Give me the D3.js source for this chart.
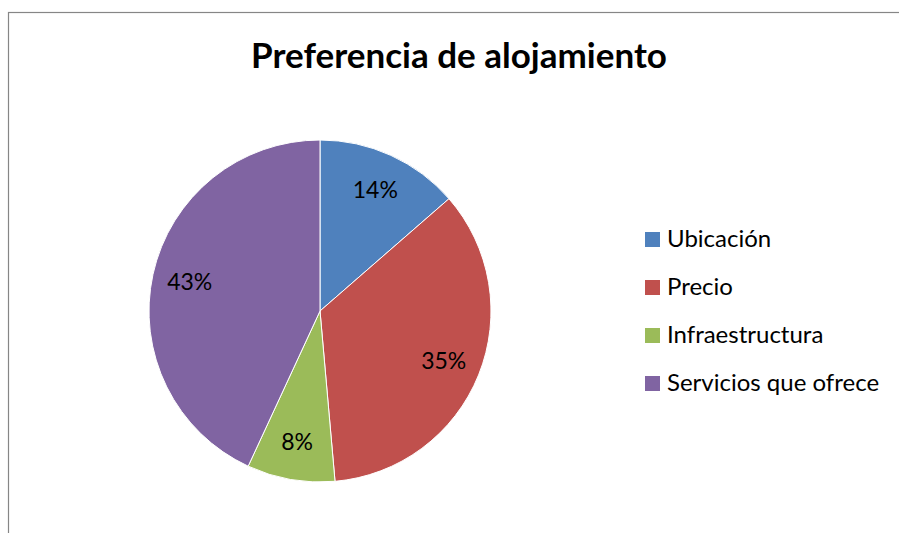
<!DOCTYPE html>
<html>
<head>
<meta charset="utf-8">
<script src="https://cdn.jsdelivr.net/npm/d3@7"></script>
<style>
  body { margin: 0; background: #fff; }
  svg { display: block; font-family: Lato, "Open Sans", sans-serif; }
</style>
</head>
<body>
<svg></svg>
<script>
var categories = ["Ubicación", "Precio", "Infraestructura", "Servicios que ofrece"];
var values = [13.6, 35.0, 8.3, 43.1];
var colors = ["#4f81bd", "#c0504d", "#9bbb59", "#8064a2"];
var title = "Preferencia de alojamiento";

var width = 899;
var height = 533;

var svg = d3.select("svg")
            .attr("width", width)
            .attr("height", height);

// chart border (runs off the right and bottom edges)
svg.append("rect")
   .attr("x", 8.5)
   .attr("y", 12.5)
   .attr("width", 900)
   .attr("height", 540)
   .attr("fill", "#fff")
   .attr("stroke", "#868686")
   .attr("stroke-width", 1.2);

svg.append("text")
   .attr("x", 459)
   .attr("y", 68)
   .attr("text-anchor", "middle")
   .style("font-size", "35px")
   .style("font-weight", "bold")
   .text(title);

var cx = 320, cy = 311, radius = 171;

var data = categories.map((c, i) => ({ name: c, value: values[i], color: colors[i] }));
var total = d3.sum(values);

var pie = d3.pie().sort(null).value(d => d.value);
var arc = d3.arc().innerRadius(0).outerRadius(radius);
var labelArc = d3.arc().innerRadius(radius * 0.78).outerRadius(radius * 0.78);

var g = svg.append("g").attr("transform", "translate(" + cx + "," + cy + ")");

var slices = g.selectAll("g.slice").data(pie(data)).enter()
  .append("g").attr("class", "slice");

slices.append("path")
  .attr("d", arc)
  .attr("fill", d => d.data.color)
  .attr("stroke", "#fff")
  .attr("stroke-width", 1);

slices.append("text")
  .attr("transform", d => "translate(" + labelArc.centroid(d) + ")")
  .attr("dy", "0.35em")
  .attr("text-anchor", "middle")
  .style("font-size", "23px")
  .text(d => Math.round(d.data.value / total * 100) + "%");

// legend
var legend = svg.selectAll("g.legend").data(data).enter()
  .append("g")
  .attr("class", "legend")
  .attr("transform", (d, i) => "translate(645," + (239 + i * 48) + ")");

legend.append("rect")
  .attr("x", 0)
  .attr("y", -7)
  .attr("width", 15)
  .attr("height", 15)
  .attr("fill", d => d.color);

legend.append("text")
  .attr("x", 22)
  .attr("y", 0)
  .attr("dy", "0.35em")
  .style("font-size", "24px")
  .text(d => d.name);
</script>
</body>
</html>
